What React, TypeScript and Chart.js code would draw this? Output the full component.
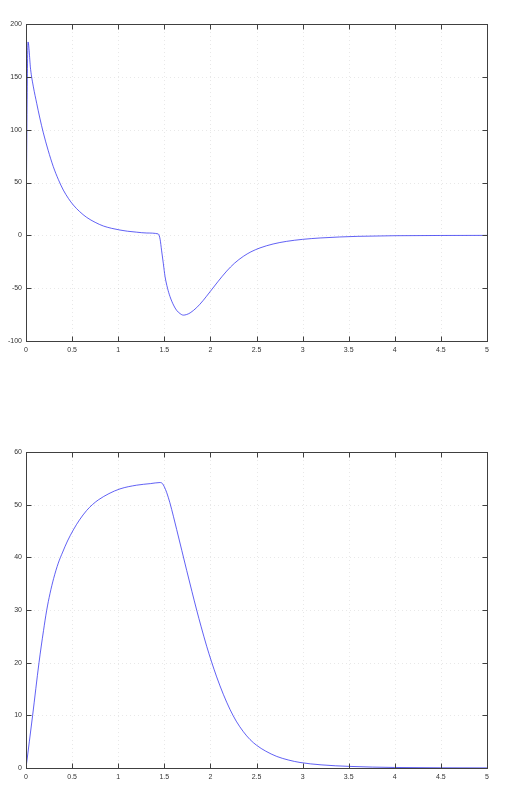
import React, { useEffect, useRef } from "react";
import { Chart, registerables } from "chart.js";

Chart.register(...registerables);

// Top plot series
const topT = [0, 0.022, 0.05, 0.08, 0.116, 0.15, 0.188, 0.24, 0.296, 0.35, 0.405, 0.46, 0.513, 0.58, 0.658, 0.75, 0.84, 0.93, 1.02, 1.1, 1.2, 1.31, 1.435, 1.455, 1.47, 1.49, 1.508, 1.535, 1.562, 1.6, 1.634, 1.67, 1.706, 1.74, 1.78, 1.851, 1.92, 1.996, 2.08, 2.177, 2.26, 2.357, 2.44, 2.538, 2.68, 2.827, 3.0, 3.19, 3.4, 3.6, 4.0, 5.0];
const topV = [0, 183, 157, 140.5, 125, 111, 97, 80.5, 65, 53, 42.8, 34.9, 28.7, 22.6, 17.0, 12.3, 8.8, 6.6, 5.0, 3.9, 3.0, 2.2, 1.3, -4, -14, -27, -39, -50, -58, -66, -71, -74, -75.5, -75, -73.4, -68.4, -61.8, -53.4, -44, -33.8, -26.5, -19.9, -15.6, -11.9, -8.2, -5.7, -3.8, -2.5, -1.55, -0.95, -0.35, -0.05];

// Bottom plot series
const botT = [0, 0.072, 0.141, 0.19, 0.224, 0.26, 0.3, 0.35, 0.398, 0.45, 0.513, 0.58, 0.658, 0.72, 0.784, 0.9, 1.02, 1.2, 1.35, 1.453, 1.48, 1.5, 1.526, 1.56, 1.6, 1.634, 1.69, 1.743, 1.8, 1.851, 1.9, 1.96, 2.01, 2.068, 2.14, 2.213, 2.28, 2.357, 2.43, 2.502, 2.6, 2.719, 2.85, 2.972, 3.2, 3.514, 4.0, 5.0];
const botV = [0, 10, 20, 26.1, 29.9, 33.1, 36.0, 38.9, 41.0, 43.1, 45.2, 47.1, 48.9, 50.0, 50.9, 52.1, 53.0, 53.7, 54.0, 54.2, 54.0, 53.4, 52.3, 50.4, 47.7, 45.3, 41.3, 37.5, 33.5, 30.0, 26.8, 23.1, 20.3, 17.3, 14.0, 11.1, 8.9, 6.9, 5.4, 4.3, 3.2, 2.2, 1.5, 1.05, 0.6, 0.3, 0.1, 0.02];

const xMin = 0, xMax = 5, xStep = 0.5;
const topYMin = -100, topYMax = 200, topYStep = 50;
const botYMin = 0, botYMax = 60, botYStep = 10;

const FONT = { family: "'Liberation Sans', Arial, sans-serif", size: 7 };
const fmt = (v: any) => String(Math.round(Number(v) * 100) / 100);

const boxPlugin = {
  id: "matlabBox",
  beforeDatasetsDraw(chart: any) {
    const { ctx, chartArea: a, scales } = chart;
    ctx.save();
    ctx.strokeStyle = "rgba(0,0,0,0.09)";
    ctx.lineWidth = 1;
    ctx.setLineDash([1, 3]);
    scales.x.ticks.forEach((t: any) => {
      const px = Math.round(scales.x.getPixelForValue(t.value)) + 0.5;
      ctx.beginPath();
      ctx.moveTo(px, a.top);
      ctx.lineTo(px, a.bottom);
      ctx.stroke();
    });
    scales.y.ticks.forEach((t: any) => {
      const py = Math.round(scales.y.getPixelForValue(t.value)) + 0.5;
      ctx.beginPath();
      ctx.moveTo(a.left, py);
      ctx.lineTo(a.right, py);
      ctx.stroke();
    });
    ctx.restore();
  },
  afterDraw(chart: any) {
    const { ctx, chartArea: a, scales } = chart;
    ctx.save();
    ctx.strokeStyle = "#404040";
    ctx.lineWidth = 1;
    ctx.setLineDash([]);
    const L = Math.round(a.left) + 0.5, R = Math.round(a.right) + 0.5;
    const T = Math.round(a.top) + 0.5, B = Math.round(a.bottom) + 0.5;
    ctx.strokeRect(L, T, R - L, B - T);
    const len = 5;
    ctx.beginPath();
    scales.x.ticks.forEach((t: any) => {
      const px = Math.round(scales.x.getPixelForValue(t.value)) + 0.5;
      ctx.moveTo(px, B); ctx.lineTo(px, B - len);
      ctx.moveTo(px, T); ctx.lineTo(px, T + len);
    });
    scales.y.ticks.forEach((t: any) => {
      const py = Math.round(scales.y.getPixelForValue(t.value)) + 0.5;
      ctx.moveTo(L, py); ctx.lineTo(L + len, py);
      ctx.moveTo(R, py); ctx.lineTo(R - len, py);
    });
    ctx.stroke();
    ctx.restore();
  },
};

function makeConfig(ts: number[], vs: number[], yMin: number, yMax: number, yStep: number, xH: number): any {
  return {
    type: "line",
    data: {
      datasets: [
        {
          data: ts.map((t, i) => ({ x: t, y: vs[i] })),
          borderColor: "rgba(30,30,240,0.7)",
          borderWidth: 1,
          pointRadius: 0,
          fill: false,
          cubicInterpolationMode: "monotone",
        },
      ],
    },
    options: {
      animation: false,
      responsive: false,
      devicePixelRatio: 1,
      layout: { padding: { top: 24, right: 22, left: 0, bottom: 0 } },
      plugins: { legend: { display: false }, tooltip: { enabled: false } },
      scales: {
        x: {
          type: "linear",
          min: xMin,
          max: xMax,
          grid: { display: false, drawTicks: false },
          border: { display: false },
          ticks: { stepSize: xStep, font: FONT, color: "#333", padding: 5, maxRotation: 0, callback: fmt },
          afterFit: (s: any) => { s.height = xH; },
        },
        y: {
          type: "linear",
          min: yMin,
          max: yMax,
          grid: { display: false, drawTicks: false },
          border: { display: false },
          ticks: { stepSize: yStep, font: FONT, color: "#333", padding: 4, callback: fmt },
          afterFit: (s: any) => { s.width = 26; },
        },
      },
    },
    plugins: [boxPlugin],
  };
}

function Plot({ ts, vs, yMin, yMax, yStep, xH, top }: any) {
  const ref = useRef<HTMLCanvasElement>(null);
  useEffect(() => {
    const c = new Chart(ref.current!, makeConfig(ts, vs, yMin, yMax, yStep, xH));
    return () => c.destroy();
  }, []);
  return (
    <div style={{ position: "absolute", left: 0, top, width: 509, height: 360 }}>
      <canvas ref={ref} width={509} height={360} style={{ display: "block" }} />
    </div>
  );
}

export default function App() {
  return (
    <div style={{ position: "fixed", left: 0, top: 0, width: 509, height: 788, background: "#fff" }}>
      <Plot ts={topT} vs={topV} yMin={topYMin} yMax={topYMax} yStep={topYStep} xH={19} top={0} />
      <Plot ts={botT} vs={botV} yMin={botYMin} yMax={botYMax} yStep={botYStep} xH={20} top={428} />
    </div>
  );
}
